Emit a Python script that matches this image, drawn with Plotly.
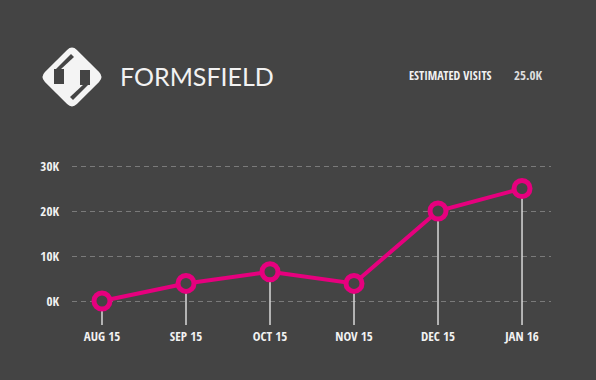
import math
import plotly.graph_objects as go

# ---- data ----
months = ["AUG 15", "SEP 15", "OCT 15", "NOV 15", "DEC 15", "JAN 16"]
visits = [0, 3900, 6500, 3900, 20000, 25000]
y_tick_vals = [0, 10000, 20000, 30000]
y_tick_text = ["0K", "10K", "20K", "30K"]
estimated_label = "ESTIMATED VISITS"
estimated_value = "25.0K"
brand = "FORMSFIELD"

BG = "#444444"
PINK = "#e6007e"
W, H = 596, 380
ML, MR, MT, MB = 72, 45, 150, 55
PW, PH = W - ML - MR, H - MT - MB

Y_MIN, Y_MAX = -5333, 33556
COND = "Open Sans Condensed, Roboto Condensed, DejaVu Sans Condensed, sans-serif"


def px(x, y):
    """pixel -> paper coordinates"""
    return (x - ML) / PW, (H - MB - y) / PH


def fmt(p):
    u, v = px(*p)
    return f"{u:.5f},{v:.5f}"


def path(points):
    return "M" + " L".join(fmt(p) for p in points) + " Z"


def rounded_path(points, rad):
    n = len(points)
    segs = []
    for i in range(n):
        P = points[i]
        A = points[i - 1]
        B = points[(i + 1) % n]
        da = math.hypot(A[0] - P[0], A[1] - P[1])
        db = math.hypot(B[0] - P[0], B[1] - P[1])
        p1 = (P[0] + (A[0] - P[0]) * rad / da, P[1] + (A[1] - P[1]) * rad / da)
        p2 = (P[0] + (B[0] - P[0]) * rad / db, P[1] + (B[1] - P[1]) * rad / db)
        segs.append((p1, P, p2))
    s = "M" + fmt(segs[0][0])
    for i, (p1, P, p2) in enumerate(segs):
        if i > 0:
            s += " L" + fmt(p1)
        s += " Q" + fmt(P) + " " + fmt(p2)
    return s + " Z"


fig = go.Figure()
fig.add_trace(go.Scatter(
    x=months, y=visits, mode="lines+markers",
    line=dict(color=PINK, width=4),
    marker=dict(size=16, color=BG, line=dict(color=PINK, width=5)),
    error_y=dict(type="data", symmetric=False,
                 array=[0] * len(visits),
                 arrayminus=[v - Y_MIN for v in visits],
                 color="#d8d8d8", thickness=1.5, width=0),
    cliponaxis=False, hoverinfo="skip",
))

# ---- logo (decoration, pixel geometry) ----
cx, cy, r = 72, 77, 32
diamond = [(cx - r, cy), (cx, cy - r), (cx + r, cy), (cx, cy + r)]
shapes = [dict(type="path", xref="paper", yref="paper", path=rounded_path(diamond, 7),
               fillcolor="#f4f4f4", line=dict(width=0), layer="above")]


def flip(pts):
    return [(2 * cx - x, 2 * cy - y) for x, y in pts]


box = [(54, 69), (64, 69), (64, 84), (54, 84)]
channel = [(55, 70), (71, 54), (74, 57), (60, 70)]
for s in [box, channel, flip(box), flip(channel)]:
    shapes.append(dict(type="path", xref="paper", yref="paper", path=path(s),
                       fillcolor=BG, line=dict(width=0), layer="above"))

annotations = []
bx, by = px(118, 76)
annotations.append(dict(text=brand, x=bx, y=by, xref="paper", yref="paper",
                        xanchor="left", yanchor="middle", showarrow=False,
                        font=dict(family="Lato, Open Sans, sans-serif", size=25, color="#f2f2f2")))
ex, ey = px(407, 75)
annotations.append(dict(text=estimated_label, x=ex, y=ey, xref="paper", yref="paper",
                        xanchor="left", yanchor="middle", showarrow=False,
                        font=dict(family=COND, size=12, color="#f2f2f2", weight="bold")))
vx, vy = px(512, 75)
annotations.append(dict(text=estimated_value, x=vx, y=vy, xref="paper", yref="paper",
                        xanchor="left", yanchor="middle", showarrow=False,
                        font=dict(family=COND, size=13, color="#dddddd", weight=300)))

fig.update_layout(
    width=W, height=H, autosize=False,
    margin=dict(l=ML, r=MR, t=MT, b=MB),
    paper_bgcolor=BG, plot_bgcolor=BG,
    showlegend=False,
    shapes=shapes, annotations=annotations,
    xaxis=dict(type="category", range=[-0.357, 5.345], showgrid=False, zeroline=False,
               showline=False, ticks="", ticklabelstandoff=2,
               tickfont=dict(family=COND, size=13, color="#f2f2f2", weight="bold")),
    yaxis=dict(range=[Y_MIN, Y_MAX], tickvals=y_tick_vals, ticktext=y_tick_text,
               showgrid=True, gridcolor="#7a7a7a", gridwidth=1, griddash="5px,4px",
               zeroline=False, showline=False, ticks="", ticklabelstandoff=12,
               tickfont=dict(family=COND, size=13, color="#f2f2f2", weight="bold")),
)

fig.write_html("out.html", config={"displayModeBar": False},
               post_script="document.body.style.margin='0';")
